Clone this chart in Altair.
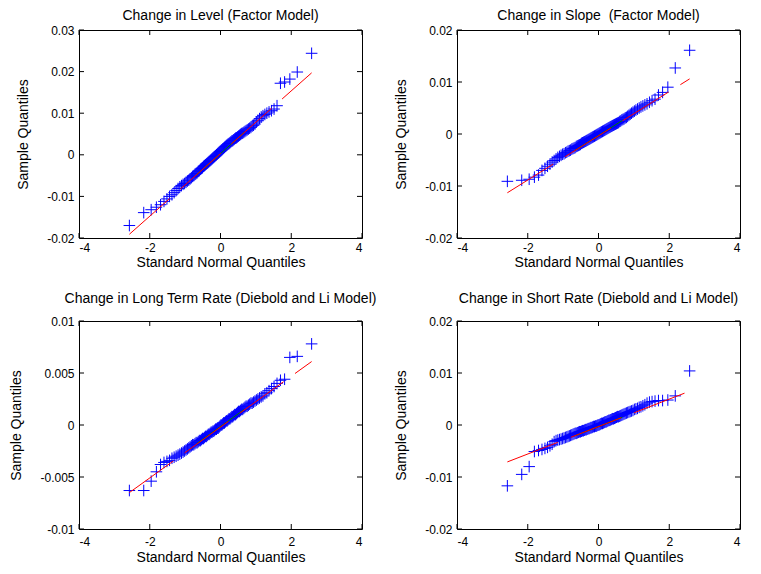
import altair as alt
import pandas as pd

# Standard normal quantiles of the 100 plotted points
QUANTILES = [
    -2.576, -2.170, -1.960, -1.812, -1.695, -1.598, -1.514, -1.440, -1.372, -1.311,
    -1.254, -1.200, -1.150, -1.103, -1.058, -1.015, -0.974, -0.935, -0.896, -0.860,
    -0.824, -0.789, -0.755, -0.722, -0.690, -0.659, -0.628, -0.598, -0.568, -0.539,
    -0.510, -0.482, -0.454, -0.426, -0.399, -0.372, -0.345, -0.319, -0.292, -0.266,
    -0.240, -0.215, -0.189, -0.164, -0.138, -0.113, -0.088, -0.063, -0.038, -0.013,
    0.013, 0.038, 0.063, 0.088, 0.113, 0.138, 0.164, 0.189, 0.215, 0.240,
    0.266, 0.292, 0.319, 0.345, 0.372, 0.399, 0.426, 0.454, 0.482, 0.510,
    0.539, 0.568, 0.598, 0.628, 0.659, 0.690, 0.722, 0.755, 0.789, 0.824,
    0.860, 0.896, 0.935, 0.974, 1.015, 1.058, 1.103, 1.150, 1.200, 1.254,
    1.311, 1.372, 1.440, 1.514, 1.598, 1.695, 1.812, 1.960, 2.170, 2.576,
]

LEVEL = [
    -0.0170, -0.0139, -0.0132, -0.0126, -0.0120, -0.0112, -0.0106, -0.0100, -0.0096, -0.0091,
    -0.0086, -0.0081, -0.0077, -0.0074, -0.0071, -0.0069, -0.0066, -0.0063, -0.0061, -0.0058,
    -0.0055, -0.0052, -0.0050, -0.0047, -0.0045, -0.0043, -0.0040, -0.0038, -0.0035, -0.0033,
    -0.0031, -0.0028, -0.0026, -0.0024, -0.0022, -0.0020, -0.0018, -0.0016, -0.0014, -0.0012,
    -0.0010, -0.0008, -0.0006, -0.0004, -0.0002, 0.0000, 0.0002, 0.0004, 0.0006, 0.0008,
    0.0010, 0.0012, 0.0014, 0.0016, 0.0018, 0.0020, 0.0022, 0.0024, 0.0026, 0.0027,
    0.0029, 0.0031, 0.0033, 0.0034, 0.0036, 0.0038, 0.0040, 0.0041, 0.0043, 0.0045,
    0.0047, 0.0049, 0.0051, 0.0052, 0.0054, 0.0056, 0.0058, 0.0060, 0.0062, 0.0064,
    0.0066, 0.0069, 0.0071, 0.0074, 0.0079, 0.0083, 0.0087, 0.0091, 0.0094, 0.0097,
    0.0100, 0.0103, 0.0106, 0.0110, 0.0118, 0.0172, 0.0175, 0.0182, 0.0199, 0.0244,
]

SLOPE = [
    -0.0091, -0.0089, -0.0087, -0.0083, -0.0079, -0.0070, -0.0066, -0.0062, -0.0058, -0.0054,
    -0.0051, -0.0048, -0.0045, -0.0043, -0.0041, -0.0039, -0.0038, -0.0036, -0.0035, -0.0033,
    -0.0032, -0.0031, -0.0029, -0.0028, -0.0027, -0.0026, -0.0024, -0.0023, -0.0022, -0.0021,
    -0.0020, -0.0018, -0.0017, -0.0016, -0.0015, -0.0014, -0.0013, -0.0012, -0.0011, -0.0010,
    -0.0009, -0.0008, -0.0007, -0.0006, -0.0005, -0.0004, -0.0003, -0.0002, -0.0001, 0.0000,
    0.0001, 0.0002, 0.0003, 0.0004, 0.0005, 0.0006, 0.0007, 0.0008, 0.0009, 0.0010,
    0.0011, 0.0012, 0.0013, 0.0014, 0.0015, 0.0016, 0.0017, 0.0018, 0.0019, 0.0020,
    0.0021, 0.0022, 0.0024, 0.0025, 0.0027, 0.0028, 0.0029, 0.0031, 0.0032, 0.0034,
    0.0036, 0.0038, 0.0040, 0.0042, 0.0044, 0.0046, 0.0048, 0.0050, 0.0052, 0.0054,
    0.0056, 0.0058, 0.0061, 0.0064, 0.0067, 0.0075, 0.0080, 0.0090, 0.0127, 0.0161,
]

LONG_RATE = [
    -0.0063, -0.0063, -0.0054, -0.0045, -0.0038, -0.0036, -0.0035, -0.0034, -0.0032, -0.0031,
    -0.0030, -0.0029, -0.0028, -0.0027, -0.0026, -0.0025, -0.0024, -0.0023, -0.0022, -0.0021,
    -0.0020, -0.0019, -0.0019, -0.0018, -0.0017, -0.0017, -0.0016, -0.0015, -0.0015, -0.0014,
    -0.0013, -0.0013, -0.0012, -0.0011, -0.0011, -0.0010, -0.0009, -0.0009, -0.0008, -0.0007,
    -0.0007, -0.0006, -0.0006, -0.0005, -0.0004, -0.0004, -0.0003, -0.0003, -0.0002, -0.0001,
    0.0000, 0.0000, 0.0001, 0.0002, 0.0002, 0.0003, 0.0004, 0.0004, 0.0005, 0.0006,
    0.0006, 0.0007, 0.0008, 0.0008, 0.0009, 0.0010, 0.0010, 0.0011, 0.0012, 0.0013,
    0.0013, 0.0014, 0.0015, 0.0015, 0.0016, 0.0017, 0.0018, 0.0018, 0.0019, 0.0020,
    0.0021, 0.0021, 0.0022, 0.0023, 0.0024, 0.0025, 0.0026, 0.0027, 0.0028, 0.0030,
    0.0031, 0.0033, 0.0035, 0.0037, 0.0040, 0.0043, 0.0044, 0.0065, 0.0066, 0.0078,
]

SHORT_RATE = [
    -0.0117, -0.0095, -0.0080, -0.0051, -0.0049, -0.0047, -0.0045, -0.0043, -0.0040, -0.0037,
    -0.0032, -0.0030, -0.0029, -0.0028, -0.0027, -0.0026, -0.0025, -0.0024, -0.0023, -0.0022,
    -0.0021, -0.0020, -0.0019, -0.0018, -0.0017, -0.0016, -0.0016, -0.0015, -0.0014, -0.0013,
    -0.0013, -0.0012, -0.0011, -0.0011, -0.0010, -0.0009, -0.0009, -0.0008, -0.0007, -0.0007,
    -0.0006, -0.0005, -0.0005, -0.0004, -0.0003, -0.0003, -0.0002, -0.0002, -0.0001, 0.0000,
    0.0000, 0.0001, 0.0002, 0.0003, 0.0003, 0.0004, 0.0005, 0.0006, 0.0006, 0.0007,
    0.0008, 0.0009, 0.0009, 0.0010, 0.0011, 0.0012, 0.0012, 0.0013, 0.0014, 0.0015,
    0.0016, 0.0016, 0.0017, 0.0018, 0.0019, 0.0020, 0.0021, 0.0022, 0.0023, 0.0024,
    0.0025, 0.0026, 0.0027, 0.0028, 0.0030, 0.0031, 0.0032, 0.0034, 0.0035, 0.0037,
    0.0039, 0.0042, 0.0044, 0.0045, 0.0046, 0.0047, 0.0047, 0.0048, 0.0056, 0.0104,
]

# Reference lines (extended fit and interquartile segment)
REF_X = [-2.576, 2.576]
QUART_X = [-0.674, 0.674]
LEVEL_REF = [-0.0191, 0.0197]
LEVEL_QUART = [-0.0048, 0.0054]
SLOPE_REF = [-0.0113, 0.0106]
SLOPE_QUART = [-0.0032, 0.0026]
LONG_REF = [-0.0065, 0.0061]
LONG_QUART = [-0.0018, 0.0015]
SHORT_REF = [-0.0071, 0.0065]
SHORT_QUART = [-0.0021, 0.0015]

TITLES = [
    "Change in Level (Factor Model)",
    "Change in Slope \u00a0(Factor Model)",
    "Change in Long Term Rate (Diebold and Li Model)",
    "Change in Short Rate (Diebold and Li Model)",
]
X_TICKS = [-4, -2, 0, 2, 4]
Y_TICKS_LEVEL = [-0.02, -0.01, 0, 0.01, 0.02, 0.03]
Y_TICKS_SLOPE = [-0.02, -0.01, 0, 0.01, 0.02]
Y_TICKS_LONG = [-0.01, -0.005, 0, 0.005, 0.01]
Y_TICKS_SHORT = [-0.02, -0.01, 0, 0.01, 0.02]

W, H = 283, 208
FONT = "Liberation Sans"
PLUS = "M-1,0L1,0M0,-1L0,1"
TICK = 5


def panel(title, yvals, yticks, ref_y, quart_y, title_offset, xlab_pad, xtitle_pad):
    xenc = alt.X(
        "x:Q",
        scale=alt.Scale(domain=[X_TICKS[0], X_TICKS[-1]], nice=False, zero=False),
        axis=alt.Axis(values=X_TICKS, title="Standard Normal Quantiles",
                      labelExpr="toString(datum.value)", labelPadding=xlab_pad,
                      titlePadding=xtitle_pad),
    )
    yenc = alt.Y(
        "y:Q",
        scale=alt.Scale(domain=[yticks[0], yticks[-1]], nice=False, zero=False),
        axis=alt.Axis(values=yticks, title="Sample Quantiles",
                      labelExpr="toString(datum.value)", labelPadding=5,
                      titlePadding=16),
    )
    pts = pd.DataFrame({"x": QUANTILES, "y": yvals})
    ref = pd.DataFrame({"x": REF_X, "y": ref_y})
    quart = pd.DataFrame({"x": QUART_X, "y": quart_y})
    xt = pd.DataFrame({"x": X_TICKS})
    yt = pd.DataFrame({"y": yticks})

    points = alt.Chart(pts).mark_point(
        shape=PLUS, filled=False, size=135, strokeWidth=1, color="#0000ff", opacity=1
    ).encode(x=xenc, y=yenc)
    green = alt.Chart(quart).mark_line(color="#008000", strokeWidth=1).encode(x=xenc, y=yenc)
    red = alt.Chart(ref).mark_line(
        color="#ff0000", strokeWidth=1, strokeDash=[54, 14]
    ).encode(x=xenc, y=yenc)
    tb = alt.Chart(xt).mark_rule(color="black", strokeWidth=1).encode(
        x=xenc, y=alt.value(H), y2=alt.value(H - TICK))
    tt = alt.Chart(xt).mark_rule(color="black", strokeWidth=1).encode(
        x=xenc, y=alt.value(0), y2=alt.value(TICK))
    tl = alt.Chart(yt).mark_rule(color="black", strokeWidth=1).encode(
        y=yenc, x=alt.value(0), x2=alt.value(TICK))
    tr = alt.Chart(yt).mark_rule(color="black", strokeWidth=1).encode(
        y=yenc, x=alt.value(W - TICK), x2=alt.value(W))
    return alt.layer(points, green, red, tb, tt, tl, tr).properties(
        width=W, height=H, title=alt.TitleParams(title, offset=title_offset)
    )


p1 = panel(TITLES[0], LEVEL, Y_TICKS_LEVEL, LEVEL_REF, LEVEL_QUART, 1, 4, 2)
p2 = panel(TITLES[1], SLOPE, Y_TICKS_SLOPE, SLOPE_REF, SLOPE_QUART, 1, 4, 2)
p3 = panel(TITLES[2], LONG_RATE, Y_TICKS_LONG, LONG_REF, LONG_QUART, 9, 7, 3)
p4 = panel(TITLES[3], SHORT_RATE, Y_TICKS_SHORT, SHORT_REF, SHORT_QUART, 9, 7, 3)

chart = alt.concat(
    p1, p2, p3, p4, columns=2, spacing={"row": 83, "column": 95}, bounds="flush"
).properties(
    padding={"left": 1, "top": 0, "right": 5, "bottom": 0},
    background="white",
).configure_view(
    stroke="black", strokeWidth=1
).configure_axis(
    labelFont=FONT, titleFont=FONT, labelFontSize=12, titleFontSize=14,
    labelColor="black", titleColor="black", titleFontWeight="normal",
    grid=False, domain=False, ticks=False,
).configure_title(
    font=FONT, fontSize=14, fontWeight="normal", color="black", anchor="middle"
)

chart.save("out.html", embed_options={"renderer": "svg", "actions": False})
